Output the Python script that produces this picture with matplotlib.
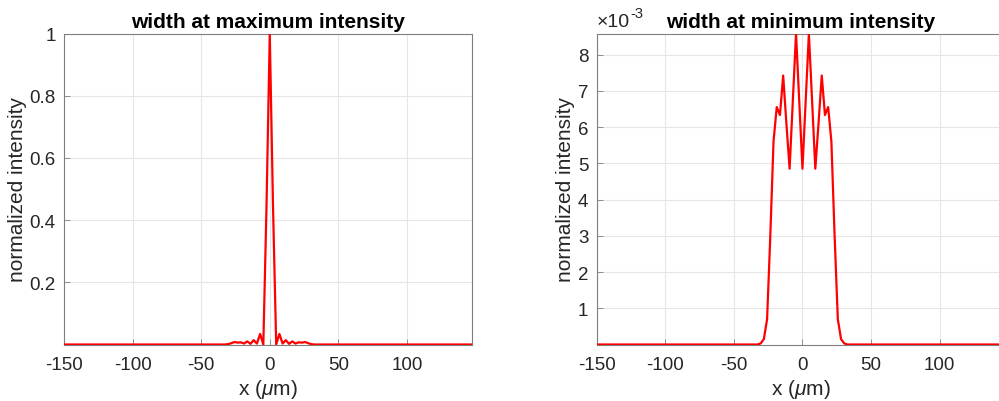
import numpy as np
import matplotlib
matplotlib.use("Agg")
import matplotlib.pyplot as plt
from matplotlib.transforms import offset_copy

plt.rcParams['font.family'] = ['Liberation Sans', 'DejaVu Sans']
plt.rcParams['axes.unicode_minus'] = False
plt.rcParams['mathtext.fontset'] = 'custom'
plt.rcParams['mathtext.rm'] = 'Liberation Sans'
plt.rcParams['mathtext.it'] = 'Liberation Sans:italic'

# sample grid: 128 points over 300 um
n_points = 128
x_span = 300.0
x = -150 + np.arange(n_points) * x_span / n_points

# central samples (index offset -14..14 around x=0), zero elsewhere
center_k = list(range(-14, 15))
max_vals = [0.0, 0.001, 0.004, 0.008, 0.006, 0.007, 0.003, 0.010, 0.002, 0.014,
            0.003, 0.034, 0.0, 0.45, 1.0, 0.45, 0.0, 0.034, 0.003, 0.014,
            0.002, 0.010, 0.003, 0.007, 0.006, 0.008, 0.004, 0.001, 0.0]
min_vals = [0.0, 0.03e-3, 0.15e-3, 0.7e-3, 3.0e-3, 5.6e-3, 6.55e-3, 6.33e-3, 7.42e-3,
            6.1e-3, 4.85e-3, 6.7e-3, 8.58e-3, 6.7e-3, 4.85e-3, 6.7e-3, 8.58e-3,
            6.7e-3, 4.85e-3, 6.1e-3, 7.42e-3, 6.33e-3, 6.55e-3, 5.6e-3, 3.0e-3,
            0.7e-3, 0.15e-3, 0.03e-3, 0.0]

y_max = np.zeros(n_points)
y_min = np.zeros(n_points)
for k, a, b in zip(center_k, max_vals, min_vals):
    y_max[64 + k] = a
    y_min[64 + k] = b

x_ticks = [-150, -100, -50, 0, 50, 100]
left_yticks = [0.2, 0.4, 0.6, 0.8, 1.0]
left_ylabels = ['0.2', '0.4', '0.6', '0.8', '1']
right_yticks = [1e-3, 2e-3, 3e-3, 4e-3, 5e-3, 6e-3, 7e-3, 8e-3]
right_ylabels = ['1', '2', '3', '4', '5', '6', '7', '8']

fig = plt.figure(figsize=(9.99, 4.02), dpi=100)
W, H = 999, 402

def add_ax(left_px, right_px, top_px, bottom_px):
    return fig.add_axes([left_px / W, (H - bottom_px) / H,
                         (right_px - left_px) / W, (bottom_px - top_px) / H])

ax1 = add_ax(64, 472.3, 34.5, 345.5)
ax2 = add_ax(596.7, 1005, 34.5, 345.5)

spine_col = '#7f7f7f'
txt_col = '#262626'
for ax, y, yt, yl, ttl in [(ax1, y_max, left_yticks, left_ylabels, 'width at maximum intensity'),
                            (ax2, y_min, right_yticks, right_ylabels, 'width at minimum intensity')]:
    ax.plot(x, y, color='#ff0000', lw=1.6, zorder=3)
    ax.set_xlim(x[0], x[-1])
    ax.set_xticks(x_ticks)
    ax.set_xticklabels([str(t) for t in x_ticks])
    ax.set_yticks(yt)
    ax.set_yticklabels(yl)
    ax.grid(True, color='#e6e6e6', lw=0.8)
    ax.set_axisbelow(True)
    for s in ax.spines.values():
        s.set_color(spine_col)
        s.set_linewidth(0.8)
    ax.tick_params(direction='in', length=4, width=0.6, color=spine_col,
                   labelsize=13.5, labelcolor=txt_col, top=False, right=False)
    ax.tick_params(axis='x', pad=8)
    ax.tick_params(axis='y', pad=6)
    ax.set_xlabel(r'x ($\mu$m)', fontsize=15, color=txt_col, labelpad=3)
    ax.set_ylabel('normalized intensity', fontsize=15, color=txt_col, labelpad=2)
    ax.set_title(ttl, fontsize=15, fontweight='bold', pad=5)

ax1.set_ylim(0, 1.0)
ax2.set_ylim(0, 8.58e-3)

t1 = ax2.text(0.0, 1.012, '\u00d710', transform=ax2.transAxes, ha='left', va='bottom',
              fontsize=14, color=txt_col)
fig.canvas.draw()
bb = t1.get_window_extent()
w_pt = bb.width * 72 / fig.dpi
ax2.text(0.0, 1.012, '-3',
         transform=offset_copy(ax2.transAxes, fig=fig, x=w_pt + 0.5, y=7, units='points'),
         ha='left', va='bottom', fontsize=10.5, color=txt_col)

fig.savefig('out.png', dpi=100)
